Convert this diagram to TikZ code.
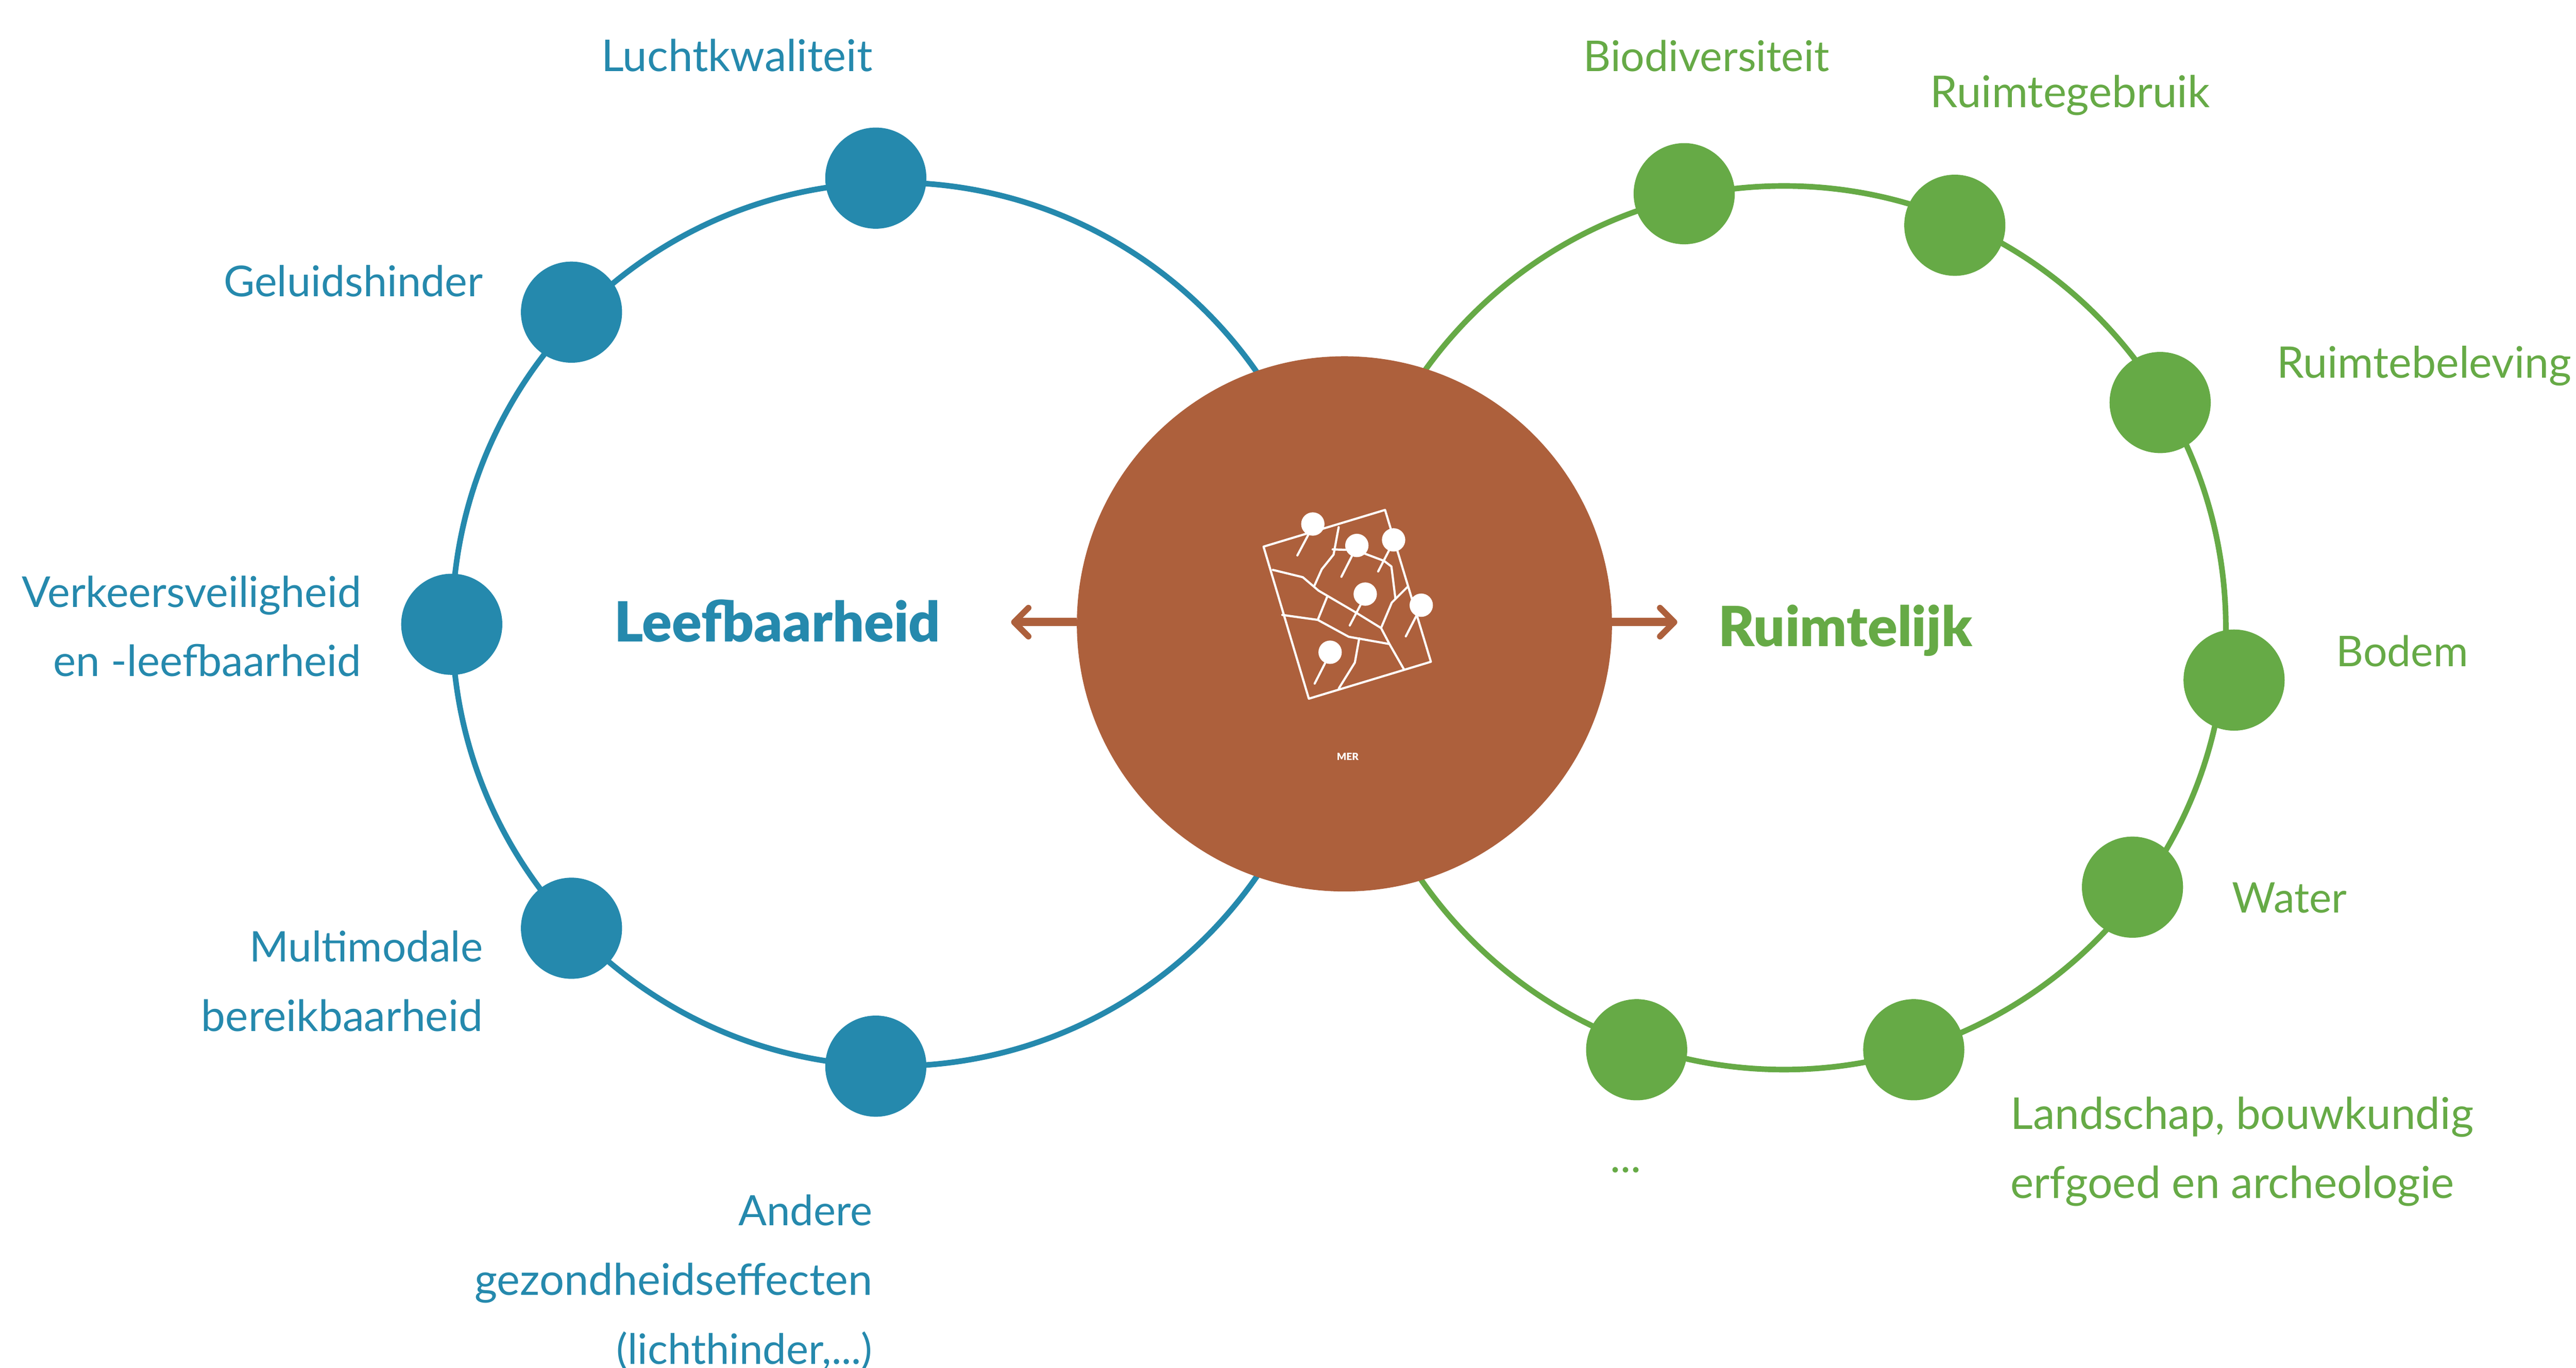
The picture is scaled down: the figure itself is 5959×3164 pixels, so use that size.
\documentclass[tikz,border=0pt]{standalone}
\usepackage{fontspec}
\setmainfont{Lato}
\newfontfamily\heavyfont{Lato Black}
\usetikzlibrary{arrows.meta}
\definecolor{lblue}{HTML}{2589AD}
\definecolor{lgreen}{HTML}{66AA46}
\definecolor{lbrown}{HTML}{AD603C}
\newcommand{\lfs}[1]{\fontsize{#1}{16}\selectfont}
\tikzset{
  ring/.style={circle,draw=#1,line width=1.3pt,minimum size=204.4pt,inner sep=0pt,outer sep=0pt},
  dot/.style={circle,fill=#1,minimum size=23.4pt,inner sep=0pt,outer sep=0pt},
  lab/.style={text=#1,font=\fontsize{10.15}{16}\selectfont,inner sep=0pt,outer sep=0pt},
  title/.style={text=#1,font=\fontsize{12.8}{18}\selectfont\heavyfont,inner sep=0pt,outer sep=0pt},
  merarrow/.style={draw=lbrown,line width=1.9pt,-{Straight Barb[length=3.3pt,width=6.6pt,line width=1.4pt,round]}},
  iconline/.style={draw=white,line width=0.5pt,line cap=round,line join=round},
  pin/.style={circle,fill=white,minimum size=5.4pt,inner sep=0pt,outer sep=0pt}
}
\begin{document}
\begin{tikzpicture}[x=0.1pt,y=-0.1pt]
\useasboundingbox (0,0) rectangle (5959,3164);
% rings
\node[ring=lblue] (ringL) at (2068,1444) {};
\node[ring=lgreen] (ringR) at (4127,1452) {};
% central circle
\node[circle,fill=lbrown,minimum size=123.8pt,inner sep=0pt,outer sep=0pt] (mer) at (3110,1443) {};
\coordinate (arrL) at (2339,1439);
\coordinate (arrR) at (3880,1439);
\draw[merarrow] (mer.center |- arrL) ++(-619,0) -- (arrL);
\draw[merarrow] (mer.center |- arrR) ++(619,0) -- (arrR);
% left dots
\node[dot=lblue] (l1) at (2026,412) {};
\node[dot=lblue] (l2) at (1322,722) {};
\node[dot=lblue] (l3) at (1045,1444) {};
\node[dot=lblue] (l4) at (1322,2147) {};
\node[dot=lblue] (l5) at (2026,2466) {};
% right dots
\node[dot=lgreen] (r1) at (3896,448) {};
\node[dot=lgreen] (r2) at (4522,521) {};
\node[dot=lgreen] (r3) at (4997,931) {};
\node[dot=lgreen] (r4) at (5168,1573) {};
\node[dot=lgreen] (r5) at (4933,2052) {};
\node[dot=lgreen] (r6) at (4427,2428) {};
\node[dot=lgreen] (r7) at (3786,2428) {};
% labels left
\node[lab=lblue,anchor=base east] (t1) at (2018,165) {Luchtkwaliteit};
\node[lab=lblue,anchor=base east] (t2) at (1117,686) {\lfs{9.85}Geluidshinder};
\node[lab=lblue,anchor=base east,align=right] (t3) at (836,1564) {\lfs{9.85}Verkeersveiligheid\\\lfs{9.95}en -leefbaarheid};
\node[lab=lblue,anchor=base east,align=right] (t4) at (1117,2385) {\lfs{9.75}Multimodale\\\lfs{10}bereikbaarheid};
\node[lab=lblue,anchor=base east,align=right] (t5) at (2018,3155) {\lfs{9.7}Andere\\\lfs{10.1}gezondheidseffecten\\\lfs{9.7}(lichthinder,...)};
% labels right
\node[lab=lgreen,anchor=base west] (u1) at (3663,165) {\lfs{9.82}Biodiversiteit};
\node[lab=lgreen,anchor=base west] (u2) at (4465,249) {Ruimtegebruik};
\node[lab=lgreen,anchor=base west] (u3) at (5267,874) {\lfs{10.05}Ruimtebeleving};
\node[lab=lgreen,anchor=base west] (u4) at (5404,1541) {\lfs{9.8}Bodem};
\node[lab=lgreen,anchor=base west] (u5) at (5164,2111) {\lfs{9.75}Water};
\node[lab=lgreen,anchor=base west,align=left] (u6) at (4651,2772) {Landschap, bouwkundig\\\lfs{10.2}erfgoed en archeologie};
\node[lab=lgreen,anchor=base west] (u7) at (3725,2712) {...};
% titles
\node[title=lblue,anchor=base west] (tL) at (1421,1484) {Leefbaarheid};
\node[title=lgreen,anchor=base west] (tR) at (3975,1495) {Ruimtelijk};
% icon
\begin{scope}[shift={(2800,1100)},x=0.04209pt,y=-0.04591pt]
\draw[iconline] (292,358) -- (960,173) -- (1212,938) -- (541,1124) -- cycle;
\draw[iconline] (343,475) -- (508,512) -- (595,580) -- (800,690) -- (938,768) -- (985,850) -- (1065,978);
\draw[iconline] (395,702) -- (590,727) -- (760,812) -- (980,848);
\draw[iconline] (818,820) -- (794,942) -- (706,1072);
\draw[iconline] (590,727) -- (642,610);
\draw[iconline] (570,558) -- (612,472) -- (677,398) -- (705,260);
\draw[iconline] (672,372) -- (745,374);
\draw[iconline] (845,392) -- (955,430) -- (995,458) -- (1017,620);
\draw[iconline] (938,768) -- (997,640) -- (1082,562);
\node[pin] (p1) at (563,244) {}; \draw[iconline] (540,295) -- (478,402);
\node[pin] (p2) at (805,352) {}; \draw[iconline] (778,405) -- (720,510);
\node[pin] (p3) at (1007,324) {}; \draw[iconline] (983,375) -- (922,483);
\node[pin] (p4) at (851,597) {}; \draw[iconline] (826,650) -- (766,755);
\node[pin] (p5) at (1159,653) {}; \draw[iconline] (1133,705) -- (1074,810);
\node[pin] (p6) at (658,890) {}; \draw[iconline] (632,942) -- (573,1048);
\node[text=white,font=\fontsize{2.3}{3}\selectfont\heavyfont,inner sep=0pt] (mertxt) at (755,1415) {MER};
\end{scope}
\end{tikzpicture}
\end{document}
